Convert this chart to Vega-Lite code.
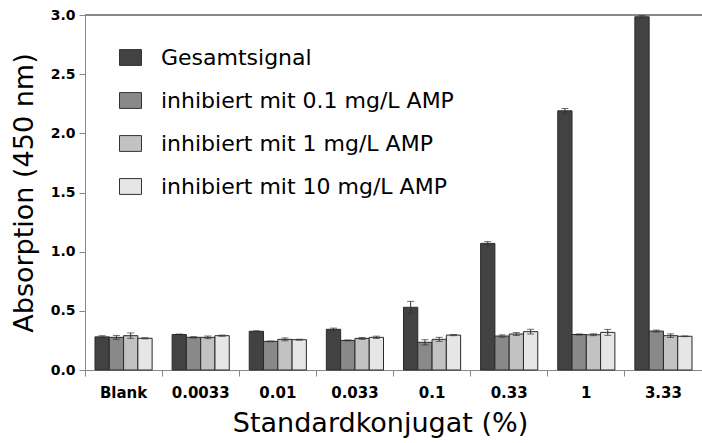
{
  "$schema": "https://vega.github.io/schema/vega-lite/v6.json",
  "width": 617,
  "height": 355,
  "autosize": "none",
  "padding": {"left": 85, "top": 15, "right": 0, "bottom": 73},
  "background": "white",
  "config": {
    "view": {"stroke": null},
    "font": "DejaVu Sans",
    "axis": {"grid": false, "domainColor": "#888888", "tickColor": "#888888", "labelColor": "black", "titleColor": "black", "titleFontWeight": "normal", "labelFont": "DejaVu Sans", "titleFont": "DejaVu Sans"}
  },
  "data": {
    "values": [
      {"group": "Blank", "series": "Gesamtsignal", "value": 0.28, "lo": 0.27, "hi": 0.29},
      {"group": "Blank", "series": "inhibiert mit 0.1 mg/L AMP", "value": 0.276, "lo": 0.26, "hi": 0.292},
      {"group": "Blank", "series": "inhibiert mit 1 mg/L AMP", "value": 0.29, "lo": 0.267, "hi": 0.313},
      {"group": "Blank", "series": "inhibiert mit 10 mg/L AMP", "value": 0.268, "lo": 0.263, "hi": 0.273},
      {"group": "0.0033", "series": "Gesamtsignal", "value": 0.30, "lo": 0.296, "hi": 0.304},
      {"group": "0.0033", "series": "inhibiert mit 0.1 mg/L AMP", "value": 0.276, "lo": 0.27, "hi": 0.282},
      {"group": "0.0033", "series": "inhibiert mit 1 mg/L AMP", "value": 0.276, "lo": 0.265, "hi": 0.287},
      {"group": "0.0033", "series": "inhibiert mit 10 mg/L AMP", "value": 0.29, "lo": 0.285, "hi": 0.295},
      {"group": "0.01", "series": "Gesamtsignal", "value": 0.327, "lo": 0.323, "hi": 0.331},
      {"group": "0.01", "series": "inhibiert mit 0.1 mg/L AMP", "value": 0.242, "lo": 0.239, "hi": 0.245},
      {"group": "0.01", "series": "inhibiert mit 1 mg/L AMP", "value": 0.259, "lo": 0.247, "hi": 0.271},
      {"group": "0.01", "series": "inhibiert mit 10 mg/L AMP", "value": 0.256, "lo": 0.252, "hi": 0.26},
      {"group": "0.033", "series": "Gesamtsignal", "value": 0.344, "lo": 0.334, "hi": 0.354},
      {"group": "0.033", "series": "inhibiert mit 0.1 mg/L AMP", "value": 0.25, "lo": 0.246, "hi": 0.254},
      {"group": "0.033", "series": "inhibiert mit 1 mg/L AMP", "value": 0.267, "lo": 0.259, "hi": 0.275},
      {"group": "0.033", "series": "inhibiert mit 10 mg/L AMP", "value": 0.276, "lo": 0.266, "hi": 0.286},
      {"group": "0.1", "series": "Gesamtsignal", "value": 0.53, "lo": 0.48, "hi": 0.58},
      {"group": "0.1", "series": "inhibiert mit 0.1 mg/L AMP", "value": 0.234, "lo": 0.212, "hi": 0.256},
      {"group": "0.1", "series": "inhibiert mit 1 mg/L AMP", "value": 0.259, "lo": 0.242, "hi": 0.276},
      {"group": "0.1", "series": "inhibiert mit 10 mg/L AMP", "value": 0.295, "lo": 0.29, "hi": 0.30},
      {"group": "0.33", "series": "Gesamtsignal", "value": 1.07, "lo": 1.055, "hi": 1.085},
      {"group": "0.33", "series": "inhibiert mit 0.1 mg/L AMP", "value": 0.287, "lo": 0.277, "hi": 0.297},
      {"group": "0.33", "series": "inhibiert mit 1 mg/L AMP", "value": 0.304, "lo": 0.292, "hi": 0.316},
      {"group": "0.33", "series": "inhibiert mit 10 mg/L AMP", "value": 0.324, "lo": 0.304, "hi": 0.344},
      {"group": "1", "series": "Gesamtsignal", "value": 2.19, "lo": 2.17, "hi": 2.21},
      {"group": "1", "series": "inhibiert mit 0.1 mg/L AMP", "value": 0.30, "lo": 0.295, "hi": 0.305},
      {"group": "1", "series": "inhibiert mit 1 mg/L AMP", "value": 0.298, "lo": 0.29, "hi": 0.306},
      {"group": "1", "series": "inhibiert mit 10 mg/L AMP", "value": 0.318, "lo": 0.293, "hi": 0.343},
      {"group": "3.33", "series": "Gesamtsignal", "value": 2.985, "lo": 2.975, "hi": 2.995},
      {"group": "3.33", "series": "inhibiert mit 0.1 mg/L AMP", "value": 0.329, "lo": 0.321, "hi": 0.337},
      {"group": "3.33", "series": "inhibiert mit 1 mg/L AMP", "value": 0.29, "lo": 0.275, "hi": 0.305},
      {"group": "3.33", "series": "inhibiert mit 10 mg/L AMP", "value": 0.285, "lo": 0.282, "hi": 0.288}
    ]
  },
  "encoding": {
    "x": {
      "field": "group", "type": "nominal",
      "sort": ["Blank", "0.0033", "0.01", "0.033", "0.1", "0.33", "1", "3.33"],
      "scale": {"paddingInner": 0, "paddingOuter": 0},
      "axis": {"title": "Standardkonjugat (%)", "titleFontSize": 27, "titlePadding": 10, "titleX": 295, "titleAlign": "center", "labelAngle": 0, "labelFontWeight": "bold", "labelFontSize": 15, "labelPadding": 9, "tickSize": 6, "bandPosition": 0}
    },
    "xOffset": {
      "field": "series", "type": "nominal",
      "sort": ["Gesamtsignal", "inhibiert mit 0.1 mg/L AMP", "inhibiert mit 1 mg/L AMP", "inhibiert mit 10 mg/L AMP"],
      "scale": {"paddingInner": 0, "paddingOuter": 0.7}
    }
  },
  "layer": [
    {
      "mark": {"type": "rule", "color": "#888888"},
      "encoding": {"y": {"datum": 3}, "x": null, "xOffset": null}
    },
    {
      "mark": {"type": "bar", "stroke": "#2a2a2a", "strokeWidth": 1, "opacity": 1},
      "encoding": {
        "y": {
          "field": "value", "type": "quantitative",
          "scale": {"domain": [0, 3], "nice": false},
          "axis": {"title": "Absorption (450 nm)", "titleFontSize": 27, "titlePadding": 12, "values": [0, 0.5, 1, 1.5, 2, 2.5, 3], "format": ".1f", "labelFontWeight": "bold", "labelFontSize": 14, "tickSize": 6, "labelPadding": 4}
        },
        "fill": {
          "field": "series", "type": "nominal",
          "sort": ["Gesamtsignal", "inhibiert mit 0.1 mg/L AMP", "inhibiert mit 1 mg/L AMP", "inhibiert mit 10 mg/L AMP"],
          "scale": {"domain": ["Gesamtsignal", "inhibiert mit 0.1 mg/L AMP", "inhibiert mit 1 mg/L AMP", "inhibiert mit 10 mg/L AMP"], "range": ["#424242", "#898989", "#c2c2c2", "#e6e6e6"]},
          "legend": {
            "title": null, "orient": "none", "legendX": 34, "legendY": 31,
            "symbolType": "M-1,-0.72H1V0.72H-1Z", "symbolSize": 484, "symbolStrokeColor": "#333333", "symbolStrokeWidth": 1, "symbolOpacity": 1,
            "labelFontSize": 22, "labelFont": "DejaVu Sans", "labelColor": "black", "labelOffset": 19, "rowPadding": 20, "labelLimit": 500
          }
        }
      }
    },
    {
      "mark": {"type": "rule", "color": "#333333", "strokeWidth": 1},
      "encoding": {"y": {"field": "lo", "type": "quantitative"}, "y2": {"field": "hi"}}
    },
    {
      "mark": {"type": "tick", "color": "#333333", "thickness": 1, "size": 7, "orient": "horizontal"},
      "encoding": {"y": {"field": "lo", "type": "quantitative"}}
    },
    {
      "mark": {"type": "tick", "color": "#333333", "thickness": 1, "size": 7, "orient": "horizontal"},
      "encoding": {"y": {"field": "hi", "type": "quantitative"}}
    }
  ]
}
